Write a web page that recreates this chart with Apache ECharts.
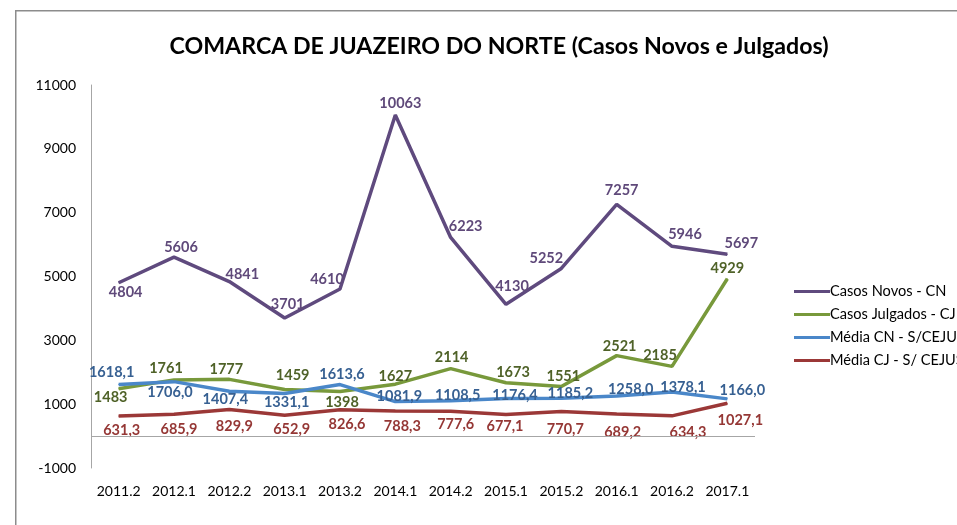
<!DOCTYPE html>
<html>
<head>
<meta charset="utf-8">
<script src="https://cdn.jsdelivr.net/npm/echarts@6/dist/echarts.min.js"></script>
<style>
  html, body { margin: 0; padding: 0; background: #fff; }
  #main { width: 957px; height: 525px; }
</style>
</head>
<body>
<div id="main"></div>
<script>
// periods on the x axis
var periods = ['2011.2', '2012.1', '2012.2', '2013.1', '2013.2', '2014.1',
               '2014.2', '2015.1', '2015.2', '2016.1', '2016.2', '2017.1'];

var seriesNames = ['Casos Novos - CN', 'Casos Julgados - CJ', 'Média CN - S/CEJUS', 'Média CJ - S/ CEJUS'];

var casosNovos    = [4804, 5606, 4841, 3701, 4610, 10063, 6223, 4130, 5252, 7257, 5946, 5697];
var casosJulgados = [1483, 1761, 1777, 1459, 1398, 1627, 2114, 1673, 1551, 2521, 2185, 4929];
var mediaCN       = [1618.1, 1706.0, 1407.4, 1331.1, 1613.6, 1081.9, 1108.5, 1176.4, 1185.2, 1258.0, 1378.1, 1166.0];
var mediaCJ       = [631.3, 685.9, 829.9, 652.9, 826.6, 788.3, 777.6, 677.1, 770.7, 689.2, 634.3, 1027.1];

var yTicks = [-1000, 1000, 3000, 5000, 7000, 9000, 11000];

// where each data label sits relative to its point (pixels)
var offCN = [[7, 10], [7, -10], [13, -7], [3, -14], [-13, -10], [5, -12], [15, -11], [6, -18], [-15, -10], [5, -14], [13, -12], [14, -11]];
var offCJ = [[-8, 9], [-8, -12], [-3, -10], [8, -14], [2, 11], [0, -8], [1, -11], [7, -10], [2, -10], [3, -9], [-12, -11], [0, -10]];
var offMCN = [[-7, -12], [-4, 11], [-4, 8], [2, 9], [2, -10], [4, -5], [7, -5], [9, -3], [9, -5], [14, -7], [11, -5], [15, -9]];
var offMCJ = [[3, 14], [5, 15], [5, 17], [7, 14], [7, 15], [7, 15], [5, 13], [-1, 12], [4, 18], [6, 18], [16, 16], [13, 17]];

var chart = echarts.init(document.getElementById('main'));

function withLabels(values, offsets) {
  return values.map(function (v, i) {
    return { value: v, label: { offset: offsets[i] } };
  });
}

function fmtDec(p) {
  return p.value.toFixed(1).replace('.', ',');
}

function lineSeries(name, values, offsets, lineColor, labelColor, decimals) {
  return {
    name: name,
    type: 'line',
    data: withLabels(values, offsets),
    symbol: 'circle',
    symbolSize: 1,
    lineStyle: { color: lineColor, width: 3.5 },
    itemStyle: { color: lineColor },
    label: {
      show: true,
      position: 'inside',
      color: labelColor,
      fontFamily: 'Lato',
      fontWeight: 'bold',
      fontSize: 14.5,
      formatter: decimals ? fmtDec : '{c}'
    },
    emphasis: { disabled: true },
    animation: false
  };
}

var cn = lineSeries(seriesNames[0], casosNovos, offCN, '#5f4a7e', '#5f497a', false);
cn.markLine = {
  silent: true,
  symbol: 'none',
  label: { show: false },
  lineStyle: { color: '#a6a6a6', width: 1, type: 'solid' },
  data: [{ yAxis: 0 }]
};

chart.setOption({
  backgroundColor: '#fff',
  animation: false,
  title: {
    text: 'COMARCA DE JUAZEIRO DO NORTE (Casos Novos e Julgados)',
    left: 494,
    top: 30,
    textAlign: 'center',
    textStyle: { fontFamily: 'Lato', fontWeight: 'bold', fontSize: 23.2, color: '#000' }
  },
  graphic: [{
    type: 'rect',
    silent: true,
    shape: { x: 15.75, y: 10.75, width: 1200, height: 800 },
    style: { fill: 'none', stroke: '#8c8c8c', lineWidth: 1.5 }
  }],
  legend: {
    orient: 'vertical',
    left: 789,
    top: 279,
    itemWidth: 36,
    itemHeight: 3,
    itemGap: 8,
    icon: 'rect',
    textStyle: { fontFamily: 'Lato', fontSize: 14.6, color: '#000', padding: [0, 0, 0, -5] },
    data: seriesNames
  },
  grid: { left: 91, right: 202, top: 85, bottom: 57, containLabel: false },
  xAxis: {
    type: 'category',
    data: periods,
    boundaryGap: true,
    axisLine: { show: false },
    axisTick: { show: false },
    axisLabel: { interval: 0, hideOverlap: false, margin: 16, fontFamily: 'Lato', fontSize: 14, color: '#000' }
  },
  yAxis: {
    type: 'value',
    min: -1000,
    max: 11000,
    interval: 1000,
    splitLine: { show: false },
    axisTick: { show: false },
    axisLine: { show: true, lineStyle: { color: '#a6a6a6', width: 1 } },
    axisLabel: {
      margin: 15,
      fontFamily: 'Lato',
      fontSize: 14,
      color: '#000',
      formatter: function (v) { return yTicks.indexOf(v) >= 0 ? String(v) : ''; }
    }
  },
  series: [
    cn,
    lineSeries(seriesNames[1], casosJulgados, offCJ, '#78993b', '#4f6228', false),
    lineSeries(seriesNames[2], mediaCN, offMCN, '#4a87c9', '#376092', true),
    lineSeries(seriesNames[3], mediaCJ, offMCJ, '#9b3837', '#953735', true)
  ]
});
</script>
</body>
</html>
